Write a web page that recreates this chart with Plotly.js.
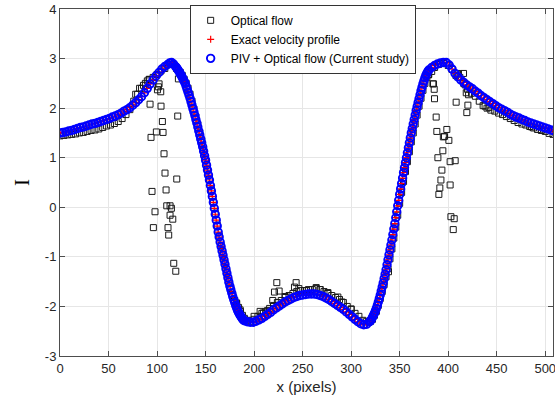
<!DOCTYPE html>
<html>
<head>
<meta charset="utf-8">
<script src="https://cdn.plot.ly/plotly-3.0.1.min.js"></script>
<style>html,body{margin:0;padding:0;background:#fff;}#chart{width:555px;height:403px;}</style>
</head>
<body>
<div id="chart"></div>
<script>
// Exact velocity profile
const exactX = [0,3,6,9,12,15,18,21,24,27,30,33,36,39,42,45,48,51,54,57,60,63,66,69,72,75,78,81,84,87,90,93,96,99,102,105,108,111,113,115,117,119,
120,121,122,123,124,125,126,127,128,129,130,131,132,133,134,135,136,137,138,139,140,141,142,143,144,145,146,147,148,149,150,151,152,153,154,155,156,157,158,159,160,161,162,163,164,165,166,167,168,169,170,171,172,173,174,175,176,177,178,179,180,181,182,183,184,185,186,187,188,189,190,
193,196,199,202,205,208,211,214,217,220,223,226,229,232,235,238,241,244,247,250,253,256,259,262,265,268,271,274,277,280,283,286,289,292,295,298,301,304,307,310,313,316,319,
320,321,322,323,324,325,326,327,328,329,330,331,332,333,334,335,336,337,338,339,340,341,342,343,344,345,346,347,348,349,350,351,352,353,354,355,356,357,358,359,360,361,362,363,364,365,366,367,368,369,370,371,372,373,374,375,376,377,378,379,380,
383,386,389,392,395,398,401,404,407,410,413,416,419,422,425,428,431,434,437,440,443,446,449,452,455,458,461,464,467,470,473,476,479,482,485,488,491,494,497,500,503,506,508];
const exactY = [1.50,1.51,1.52,1.54,1.55,1.57,1.59,1.61,1.62,1.64,1.66,1.68,1.69,1.71,1.73,1.75,1.77,1.79,1.82,1.84,1.87,1.90,1.94,1.97,2.01,2.06,2.11,2.17,2.23,2.31,2.40,2.49,2.57,2.65,2.72,2.79,2.84,2.88,2.91,2.92,2.89,2.84,
2.82,2.79,2.76,2.73,2.69,2.66,2.62,2.58,2.54,2.50,2.44,2.38,2.32,2.26,2.20,2.13,2.06,1.99,1.92,1.85,1.77,1.70,1.62,1.54,1.46,1.38,1.30,1.22,1.13,1.04,0.95,0.85,0.75,0.65,0.55,0.44,0.33,0.22,0.10,-0.02,-0.14,-0.26,-0.38,-0.50,-0.60,-0.70,-0.79,-0.88,-0.97,-1.06,-1.15,-1.24,-1.33,-1.42,-1.51,-1.59,-1.66,-1.73,-1.80,-1.86,-1.92,-1.98,-2.03,-2.08,-2.12,-2.16,-2.19,-2.22,-2.25,-2.27,-2.29,
-2.31,-2.32,-2.32,-2.30,-2.27,-2.24,-2.20,-2.16,-2.12,-2.07,-2.03,-1.99,-1.95,-1.91,-1.88,-1.85,-1.82,-1.80,-1.78,-1.77,-1.76,-1.75,-1.75,-1.75,-1.76,-1.78,-1.80,-1.83,-1.86,-1.90,-1.94,-1.98,-2.02,-2.06,-2.11,-2.16,-2.21,-2.26,-2.31,-2.35,-2.37,-2.36,-2.31,
-2.29,-2.26,-2.22,-2.18,-2.14,-2.09,-2.04,-1.98,-1.91,-1.84,-1.77,-1.69,-1.61,-1.53,-1.44,-1.35,-1.26,-1.16,-1.06,-0.96,-0.86,-0.76,-0.66,-0.55,-0.44,-0.33,-0.21,-0.09,0.03,0.14,0.26,0.37,0.48,0.59,0.70,0.80,0.90,1.00,1.10,1.20,1.30,1.40,1.50,1.59,1.68,1.77,1.86,1.95,2.03,2.11,2.19,2.27,2.35,2.42,2.49,2.55,2.61,2.66,2.70,2.74,2.77,
2.82,2.86,2.89,2.91,2.92,2.92,2.87,2.79,2.70,2.63,2.57,2.52,2.47,2.43,2.39,2.34,2.30,2.25,2.21,2.17,2.13,2.09,2.05,2.01,1.98,1.95,1.92,1.88,1.85,1.82,1.80,1.77,1.75,1.72,1.70,1.68,1.66,1.64,1.62,1.60,1.58,1.56,1.55];

// PIV + Optical flow: coincides with the exact profile at this resolution
const pivX = exactX;
const pivY = exactY;

// Optical flow
const ofX = [0,4,8,12,16,20,24,28,32,36,40,44,48,52,56,60,64,68,72,76,80,84,88,92,96,100,104,108,112,116,
120,122,124,126,128,130,132,134,136,138,140,142,144,146,148,150,152,154,156,158,160,162,164,166,168,170,172,174,176,178,180,182,184,186,188,190,
193,196,200,204,208,212,216,220,224,228,232,236,240,244,248,252,256,260,264,268,272,276,280,284,288,292,296,300,304,308,312,316,
318,320,322,324,326,328,330,332,334,336,338,340,342,344,346,348,350,352,354,356,358,360,362,364,366,368,370,372,374,376,378,380,383,386,
390,395,400,404,408,412,416,420,424,428,432,436,440,444,448,452,456,460,464,468,472,476,480,484,488,492,496,500,504,508,
102.1,101.4,100.4,103.8,92.8,104.1,121.3,105.5,99.3,106.2,93.8,107.2,108.2,120.3,94.8,109.3,110,113.4,114.8,97.9,113.4,116.2,96.2,111.3,112,117.2,119.3,122,92,
223.4,221,225.8,219.2,243.3,241.6,246.1,264,268,286.3,290.4,206.2,209.6,182,185.6,338.5,200,214,232,254,276,300,
384.9,385.6,385.9,408.2,420.3,419.2,387.6,388.3,398.6,396.2,395,400.7,394.5,389.4,402,407.2,393.5,392.5,402,391.4,390.4,402.8,406.2,405.2,
409,410.6,415.8,417.5,418.6,421,379.7,384.2,438,442,486,496,
82,86,90,78];
const ofY = [1.44,1.45,1.46,1.47,1.48,1.50,1.51,1.53,1.55,1.56,1.58,1.61,1.64,1.66,1.69,1.73,1.79,1.87,1.97,2.14,2.28,2.40,2.50,2.58,2.62,2.68,2.75,2.80,2.88,2.88,
2.80,2.76,2.72,2.66,2.58,2.50,2.40,2.28,2.14,1.98,1.82,1.66,1.50,1.34,1.16,0.97,0.77,0.57,0.35,0.12,-0.12,-0.36,-0.58,-0.77,-0.95,-1.13,-1.31,-1.49,-1.64,-1.78,-1.88,-1.95,-2.02,-2.10,-2.18,-2.24,
-2.28,-2.30,-2.26,-2.20,-2.14,-2.10,-2.04,-1.98,-1.92,-1.88,-1.82,-1.78,-1.74,-1.70,-1.68,-1.68,-1.66,-1.66,-1.64,-1.66,-1.70,-1.74,-1.78,-1.82,-1.86,-1.92,-2.00,-2.06,-2.14,-2.20,-2.28,-2.30,
-2.32,-2.30,-2.26,-2.18,-2.10,-1.98,-1.84,-1.70,-1.56,-1.40,-1.24,-1.04,-0.84,-0.62,-0.40,-0.16,0.08,0.30,0.52,0.72,0.92,1.12,1.32,1.50,1.68,1.86,2.04,2.20,2.36,2.50,2.62,2.68,2.74,2.82,
2.88,2.90,2.86,2.78,2.66,2.62,2.50,2.38,2.30,2.24,2.14,2.05,2.00,1.96,1.94,1.90,1.87,1.83,1.79,1.75,1.71,1.68,1.66,1.63,1.60,1.57,1.55,1.53,1.49,1.47,
2.49,2.43,2.37,2.33,2.08,2.04,1.84,1.73,1.52,1.51,1.41,1.08,0.69,0.57,0.32,0.35,0.03,0.03,-0.02,-0.09,-0.16,-0.24,-0.41,-0.41,-0.56,-1.13,-1.29,2.59,2.58,
-1.52,-1.71,-1.69,-1.88,-1.52,-1.61,-1.64,-1.62,-1.66,-1.81,-1.91,-2.10,-2.13,-1.93,-2.07,-1.30,-2.20,-2.08,-1.80,-1.68,-1.72,-2.05,
2.49,2.38,2.19,2.12,2.06,1.91,1.82,1.53,1.57,1.43,1.42,1.35,1.14,1.00,0.92,0.94,0.75,0.55,0.45,0.39,0.26,-0.19,-0.23,-0.45,
2.70,2.69,2.70,2.47,2.31,2.27,2.67,2.49,2.04,2.01,1.62,1.56,
2.40,2.46,2.55,2.28];

const xTicks = [0,50,100,150,200,250,300,350,400,450,500];
const yTicks = [-3,-2,-1,0,1,2,3,4];

const axisColor = '#4d4d4d';
const gridColor = '#e6e6e6';
const fontFam = '"Liberation Sans", Arial, sans-serif';

const traces = [
  {x: ofX, y: ofY, type: 'scatter', mode: 'markers', name: 'Optical flow',
   marker: {symbol: 'square-open', size: 6, color: '#1a1a1a', line: {width: 1, color: '#1a1a1a'}}},
  {x: exactX, y: exactY, type: 'scatter', mode: 'markers', name: 'Exact velocity profile',
   marker: {symbol: 'cross-thin-open', size: 5, color: '#ff0000', line: {width: 1.2, color: '#ff0000'}}},
  {x: pivX, y: pivY, type: 'scatter', mode: 'markers', name: 'PIV + Optical flow (Current study)',
   marker: {symbol: 'circle-open', size: 7.5, color: '#0000ff', line: {width: 1.9, color: '#0000ff'}}}
];

const layout = {
  width: 555, height: 403,
  margin: {l: 60, r: 2, t: 9, b: 47},
  paper_bgcolor: '#ffffff', plot_bgcolor: '#ffffff',
  font: {family: fontFam, size: 13, color: '#262626'},
  showlegend: true,
  legend: {x: 0.263, xanchor: 'left', y: 1.012, yanchor: 'top',
           bgcolor: '#ffffff', bordercolor: '#333333', borderwidth: 1,
           font: {family: fontFam, size: 12, color: '#000'}, tracegroupgap: 0},
  xaxis: {range: [0, 508], tickvals: xTicks, ticktext: xTicks.map(String),
          ticklabeloverflow: 'allow',
          showgrid: true, gridcolor: gridColor, zeroline: false,
          showline: true, linecolor: axisColor, linewidth: 1, mirror: 'ticks',
          ticks: 'inside', ticklen: 5, tickcolor: axisColor,
          tickfont: {size: 13, color: '#262626'},
          title: {text: 'x (pixels)', font: {size: 15, color: '#262626'}, standoff: 6},
          automargin: false},
  yaxis: {range: [-3, 4], tickvals: yTicks, ticktext: yTicks.map(String),
          showgrid: true, gridcolor: gridColor, zeroline: false,
          showline: true, linecolor: axisColor, linewidth: 1, mirror: 'ticks',
          ticks: 'inside', ticklen: 5, tickcolor: axisColor,
          tickfont: {size: 13, color: '#262626'},
          title: {text: 'I', font: {family: '"Liberation Serif", "Times New Roman", serif', size: 21, color: '#000'}, standoff: 9},
          automargin: false}
};

Plotly.newPlot('chart', traces, layout, {staticPlot: true, displayModeBar: false});
</script>
</body>
</html>
